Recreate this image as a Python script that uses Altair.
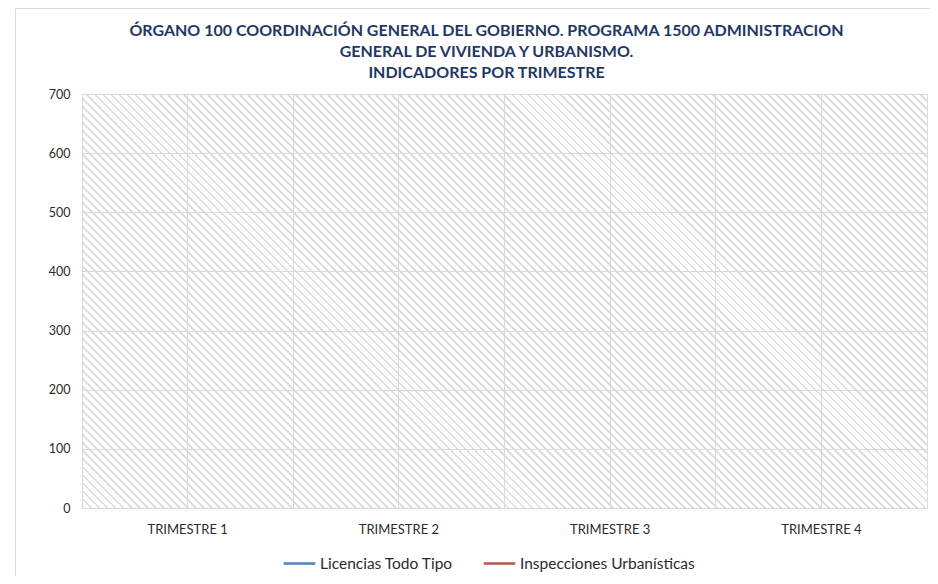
import altair as alt
import pandas as pd

# ---------------- data ----------------
trimestres = ["TRIMESTRE 1", "TRIMESTRE 2", "TRIMESTRE 3", "TRIMESTRE 4"]
series = ["Licencias Todo Tipo", "Inspecciones Urbanísticas"]
licencias = [None, None, None, None]        # no values plotted in the reference
inspecciones = [None, None, None, None]     # no values plotted in the reference
series_colors = ["#4F81BD", "#C0504D"]
y_ticks = [0, 100, 200, 300, 400, 500, 600, 700]
title_lines = [
    "ÓRGANO 100 COORDINACIÓN GENERAL DEL GOBIERNO. PROGRAMA 1500 ADMINISTRACION",
    "GENERAL DE VIVIENDA Y  URBANISMO.",
    "INDICADORES POR TRIMESTRE",
]

rows = []
for t, v in zip(trimestres, licencias):
    rows.append({"trimestre": t, "serie": series[0], "valor": v})
for t, v in zip(trimestres, inspecciones):
    rows.append({"trimestre": t, "serie": series[1], "valor": v})
df = pd.DataFrame(rows)
df["valor"] = df["valor"].astype("float")

# ---------------- layout / style ----------------
W, H = 845, 414
FONT = "Lato"
GRID = "#d9d9d9"
TEXT = "#2b2b2b"

# diagonal hatch of the plot area, built as a striped linear gradient
N_STRIPES = 157
STRIPE = 0.36
HATCH = "#dedede"
stops = []
for i in range(N_STRIPES):
    a = i / N_STRIPES
    b = (i + STRIPE) / N_STRIPES
    c = (i + 1) / N_STRIPES
    stops += [
        {"offset": round(a, 6), "color": HATCH},
        {"offset": round(b, 6), "color": HATCH},
        {"offset": round(b, 6), "color": "#ffffff"},
        {"offset": round(min(c, 1.0), 6), "color": "#ffffff"},
    ]
s = (W + H) / (W * W + H * H)
hatch = {
    "gradient": "linear",
    "x1": 0, "y1": 1,
    "x2": s * W, "y2": 1 - s * H,
    "stops": stops,
}

one = pd.DataFrame({"k": [0]})

# light frame around the whole chart area (only its left and top edges fall in view)
frame = alt.Chart(one).mark_rect(fillOpacity=0, stroke="#d9d9d9", strokeWidth=1).encode(
    x=alt.value(-66.5), x2=alt.value(W + 40), y=alt.value(-85.5), y2=alt.value(H + 100)
)

bg = alt.Chart(one).mark_rect(fill=hatch).encode(
    x=alt.value(0), x2=alt.value(W), y=alt.value(0), y2=alt.value(H)
)

xscale = alt.Scale(type="band", domain=trimestres, paddingInner=0, paddingOuter=0)
yscale = alt.Scale(domain=[0, 700])

lines = alt.Chart(df).mark_line(strokeWidth=2.25).encode(
    x=alt.X(
        "trimestre:N",
        scale=xscale,
        title=None,
        axis=alt.Axis(
            orient="bottom", grid=True, gridColor=GRID, ticks=False,
            domainColor=GRID, labelAngle=0, labelFont=FONT, labelFontSize=13,
            labelColor=TEXT, labelPadding=15, zindex=1,
        ),
    ),
    y=alt.Y(
        "valor:Q",
        scale=yscale,
        title=None,
        axis=alt.Axis(
            values=y_ticks, grid=True, gridColor=GRID, ticks=False, domain=False,
            labelFont=FONT, labelFontSize=12.5, labelColor=TEXT, labelPadding=12,
            zindex=1,
        ),
    ),
    color=alt.Color(
        "serie:N",
        scale=alt.Scale(domain=series, range=series_colors),
        legend=alt.Legend(
            title=None, orient="none", direction="horizontal",
            legendX=200, legendY=452,
            symbolType="stroke", symbolSize=1000, symbolStrokeWidth=2.5,
            labelFont=FONT, labelFontSize=15.5, labelColor=TEXT, labelLimit=0,
            labelOffset=3, columnPadding=24,
        ),
    ),
)

bounds = alt.Chart(df).mark_line(opacity=0).encode(
    x=alt.X(
        "trimestre:N",
        scale=xscale,
        title=None,
        axis=alt.Axis(
            orient="top", grid=True, gridColor=GRID, ticks=False, labels=False,
            domain=False, bandPosition=0, zindex=1,
        ),
    ),
    y=alt.Y("valor:Q", scale=yscale),
)

chart = (
    alt.layer(frame, bg, lines, bounds)
    .resolve_axis(x="independent")
    .properties(
        width=W,
        height=H,
        autosize=alt.AutoSizeParams(type="none"),
        padding={"left": 74, "top": 86, "right": 3, "bottom": 68},
        title=alt.Title(
            title_lines,
            font=FONT, fontSize=16, fontWeight="bold", color="#1F3864",
            anchor="middle", frame="group", dx=-18, offset=-73, lineHeight=21,
        ),
    )
    .configure_view(stroke=GRID, strokeWidth=1)
    .configure(background="white")
)

chart.save("out.html", embed_options={"renderer": "svg", "actions": False})
